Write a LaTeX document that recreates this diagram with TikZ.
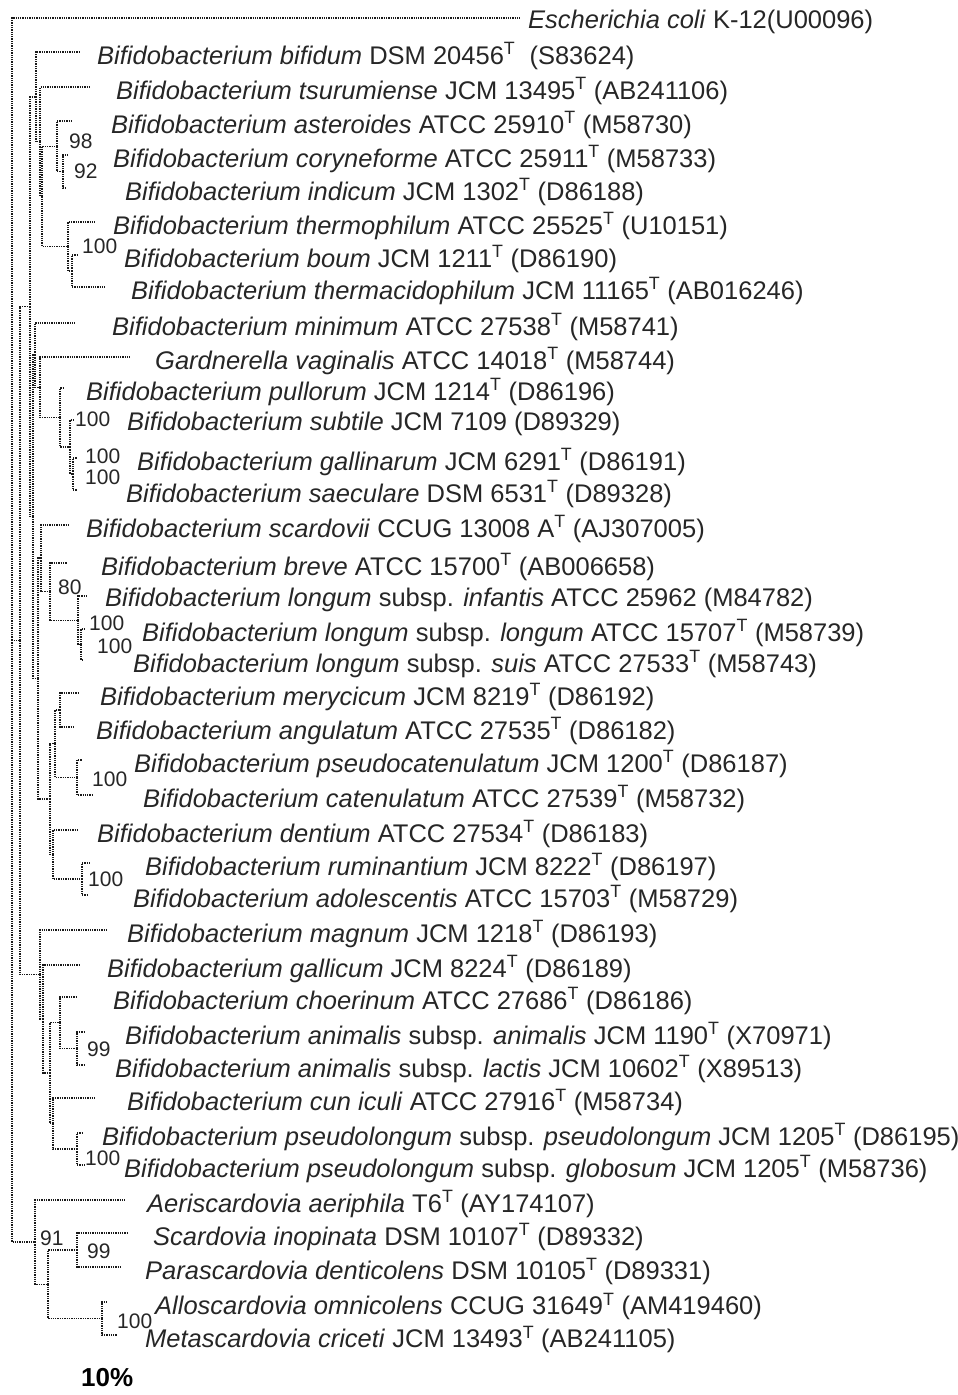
\documentclass[tikz,border=0pt]{standalone}
\usepackage{fontspec}
\setmainfont{Liberation Sans}
\newcommand{\typ}{\textsuperscript{T}}
\tikzset{
  branch/.style={black!90, line width=1.3pt, densely dotted},
  leaf/.style={anchor=west, inner sep=0pt, text=black!85, font=\fontsize{25.5}{30}\selectfont},
  boot/.style={anchor=west, inner sep=0pt, text=black!85, font=\fontsize{21}{25}\selectfont},
}
\begin{document}
\begin{tikzpicture}[x=1pt, y=-1pt]
  \useasboundingbox (0,0) rectangle (958,1395);
  % leaves: name / branch y / branch end x / text x / label
  \foreach \nm/\yb/\xe/\xt/\lbl in {
    ecoli/18/520/528/{\textit{Escherichia coli} K-12(U00096)},
    bifidum/52/80/97/{\textit{Bifidobacterium bifidum} DSM 20456\typ~~(S83624)},
    tsurumiense/87/91/116/{\textit{Bifidobacterium tsurumiense} JCM 13495\typ{} (AB241106)},
    asteroides/121/72/111/{\textit{Bifidobacterium asteroides} ATCC 25910\typ{} (M58730)},
    coryneforme/155/68/113/{\textit{Bifidobacterium coryneforme} ATCC 25911\typ{} (M58733)},
    indicum/188/67/125/{\textit{Bifidobacterium indicum} JCM 1302\typ{} (D86188)},
    thermophilum/222/95/113/{\textit{Bifidobacterium thermophilum} ATCC 25525\typ{} (U10151)},
    boum/255/78/124/{\textit{Bifidobacterium boum} JCM 1211\typ{} (D86190)},
    thermacidophilum/287/105/131/{\textit{Bifidobacterium thermacidophilum} JCM 11165\typ{} (AB016246)},
    minimum/323/75/112/{\textit{Bifidobacterium minimum} ATCC 27538\typ{} (M58741)},
    gardnerella/357/130/155/{\textit{Gardnerella vaginalis} ATCC 14018\typ{} (M58744)},
    pullorum/388/64/86/{\textit{Bifidobacterium pullorum} JCM 1214\typ{} (D86196)},
    subtile/420/74/127/{\textit{Bifidobacterium subtile} JCM 7109 (D89329)},
    gallinarum/458/77/137/{\textit{Bifidobacterium gallinarum} JCM 6291\typ{} (D86191)},
    saeculare/490/77/126/{\textit{Bifidobacterium saeculare} DSM 6531\typ{} (D89328)},
    scardovii/525/70/86/{\textit{Bifidobacterium scardovii} CCUG 13008 A\typ{} (AJ307005)},
    breve/563/67/101/{\textit{Bifidobacterium breve} ATCC 15700\typ{} (AB006658)},
    infantis/596/88/105/{\textit{Bifidobacterium longum} subsp. \textit{infantis} ATCC 25962 (M84782)},
    longum/629/84/142/{\textit{Bifidobacterium longum} subsp. \textit{longum} ATCC 15707\typ{} (M58739)},
    suis/660/83/133/{\textit{Bifidobacterium longum} subsp. \textit{suis} ATCC 27533\typ{} (M58743)},
    merycicum/693/78/100/{\textit{Bifidobacterium merycicum} JCM 8219\typ{} (D86192)},
    angulatum/727/75/96/{\textit{Bifidobacterium angulatum} ATCC 27535\typ{} (D86182)},
    pseudocat/760/82/134/{\textit{Bifidobacterium pseudocatenulatum} JCM 1200\typ{} (D86187)},
    catenulatum/795/93/143/{\textit{Bifidobacterium catenulatum} ATCC 27539\typ{} (M58732)},
    dentium/830/78/97/{\textit{Bifidobacterium dentium} ATCC 27534\typ{} (D86183)},
    ruminantium/863/90/145/{\textit{Bifidobacterium ruminantium} JCM 8222\typ{} (D86197)},
    adolescentis/895/88/133/{\textit{Bifidobacterium adolescentis} ATCC 15703\typ{} (M58729)},
    magnum/930/107/127/{\textit{Bifidobacterium magnum} JCM 1218\typ{} (D86193)},
    gallicum/965/80/107/{\textit{Bifidobacterium gallicum} JCM 8224\typ{} (D86189)},
    choerinum/997/77/113/{\textit{Bifidobacterium choerinum} ATCC 27686\typ{} (D86186)},
    animalis/1032/85/125/{\textit{Bifidobacterium animalis} subsp. \textit{animalis} JCM 1190\typ{} (X70971)},
    lactis/1065/85/115/{\textit{Bifidobacterium animalis} subsp. \textit{lactis} JCM 10602\typ{} (X89513)},
    cuniculi/1098/95/127/{\textit{Bifidobacterium cun iculi} ATCC 27916\typ{} (M58734)},
    pseudolongum/1133/82/102/{\textit{Bifidobacterium pseudolongum} subsp. \textit{pseudolongum} JCM 1205\typ{} (D86195)},
    globosum/1165/85/124/{\textit{Bifidobacterium pseudolongum} subsp. \textit{globosum} JCM 1205\typ{} (M58736)},
    aeri/1200/125/147/{\textit{Aeriscardovia aeriphila} T6\typ{} (AY174107)},
    scardovia/1233/128/153/{\textit{Scardovia inopinata} DSM 10107\typ{} (D89332)},
    parascardovia/1267/120/145/{\textit{Parascardovia denticolens} DSM 10105\typ{} (D89331)},
    allo/1302/107/155/{\textit{Alloscardovia omnicolens} CCUG 31649\typ{} (AM419460)},
    meta/1335/117/145/{\textit{Metascardovia criceti} JCM 13493\typ{} (AB241105)}}{
    \coordinate (\nm) at (\xe,\yb);
    \node[leaf] (\nm-lbl) at (\xt,\yb+4) {\lbl};
  }
  % inner nodes
  \foreach \nm/\xx/\yy in {r/12/640, nb/20/640.6, n30/30/306.8, ntop/36/96.85,
      n40a/40/141.7, n42/42/196.4, nast/57/146.25, ncor/63/171.5, nthe/68/246.5,
      nboum/72/271, n33/33/516.75, n35/35/355, ngar/40/387.25, npul/60/417.5,
      nsub/70/447, ngal/73/474, n40/38/678.5, nsc/41/558, nbl/50/591.5,
      ninf/78/620.25, nlon/81/644.5, nmd/50/799, nmc/55/743.75, nmer/60/710,
      ncat/77/777.5, ndr/53/854.5, nrum/82/879, nmg/40/974.5, ngc/43/1019,
      nch/50/1073, nchoer/60/1022.75, nani/77/1048.5, ncun/53/1123.5,
      npse/77/1149, scg/35/1242, nsc2/48/1284.25, nsc3/77/1250, nallo/102/1318.5}{
    \coordinate (\nm) at (\xx,\yy);
  }
  % branches
  \foreach \p/\c in {r/ecoli, r/nb, r/scg, nb/n30, nb/nmg, n30/ntop, n30/n33,
      ntop/bifidum, ntop/n40a, n40a/tsurumiense, n40a/n42, n42/nast, n42/nthe,
      nast/asteroides, nast/ncor, ncor/coryneforme, ncor/indicum,
      nthe/thermophilum, nthe/nboum, nboum/boum, nboum/thermacidophilum,
      n33/n35, n33/n40, n35/minimum, n35/ngar, ngar/gardnerella, ngar/npul,
      npul/pullorum, npul/nsub, nsub/subtile, nsub/ngal, ngal/gallinarum,
      ngal/saeculare, n40/nsc, n40/nmd, nsc/scardovii, nsc/nbl, nbl/breve,
      nbl/ninf, ninf/infantis, ninf/nlon, nlon/longum, nlon/suis, nmd/nmc,
      nmd/ndr, nmc/nmer, nmc/ncat, nmer/merycicum, nmer/angulatum,
      ncat/pseudocat, ncat/catenulatum, ndr/dentium, ndr/nrum,
      nrum/ruminantium, nrum/adolescentis, nmg/magnum, nmg/ngc, ngc/gallicum,
      ngc/nch, nch/nchoer, nch/ncun, nchoer/choerinum, nchoer/nani,
      nani/animalis, nani/lactis, ncun/cuniculi, ncun/npse,
      npse/pseudolongum, npse/globosum, scg/aeri, scg/nsc2, nsc2/nsc3,
      nsc2/nallo, nsc3/scardovia, nsc3/parascardovia, nallo/allo, nallo/meta}{
    \draw[branch] (\p) |- (\c);
  }
  % bootstrap values
  \foreach \nm/\xx/\yy/\bv in {b-ast/69/141/98, b-cor/74/171/92, b-the/82/246/100,
      b-pul/75/419/100, b-sub/85/456/100, b-gal/85/477/100, b-bl/58/587/80,
      b-inf/89/623/100, b-lon/97/646/100, b-cat/92/779/100, b-rum/88/879/100,
      b-ani/87/1049/99, b-pse/85/1158/100, b-scg/40/1238/91, b-sc3/87/1251/99,
      b-allo/117/1321/100}{
    \node[boot] (\nm) at (\xx,\yy) {\bv};
  }
  \node[anchor=west, inner sep=0pt, font=\fontsize{26}{30}\selectfont\bfseries] (scale) at (81,1378) {10\%};
\end{tikzpicture}
\end{document}
